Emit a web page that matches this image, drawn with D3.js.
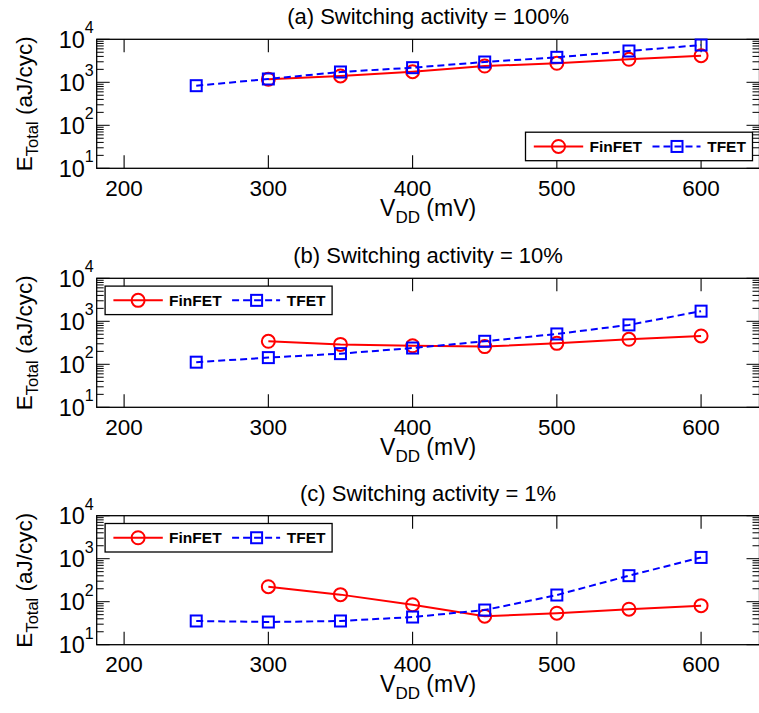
<!DOCTYPE html>
<html>
<head>
<meta charset="utf-8">
<script src="https://cdn.jsdelivr.net/npm/d3@7"></script>
<style>
  html, body { margin: 0; padding: 0; background: #fff; }
  svg { display: block; }
  text { font-family: "Liberation Sans", Arial, Helvetica, sans-serif; fill: #000; }
</style>
</head>
<body>
<svg id="chart" width="759" height="713"></svg>
<script>
// ---------------- data ----------------
const vddFinFET = [300, 350, 400, 450, 500, 550, 600];
const vddTFET = [250, 300, 350, 400, 450, 500, 550, 600];

const finfetA = [1175, 1403, 1766, 2393, 2766, 3427, 4157];
const tfetA   = [834, 1194, 1738, 2188, 2965, 3811, 5345, 7360];

const finfetB = [343, 290, 270, 258, 307, 382, 456];
const tfetB   = [112, 143, 177, 239, 343, 508, 824, 1722];

const finfetC = [223, 146, 85, 46, 54, 67, 81];
const tfetC   = [35.6, 33.7, 35.6, 44, 64, 143, 403, 1070];

const titles = ["(a) Switching activity = 100%", "(b) Switching activity = 10%", "(c) Switching activity = 1%"];
const xTickValues = [200, 300, 400, 500, 600];
const yTickExponents = [1, 2, 3, 4];
const seriesNames = ["FinFET", "TFET"];

// ---------------- layout ----------------
const svg = d3.select("#chart");
const boxLeft = 96.7, boxRight = 759.5;
const panelTops = [39.3, 278.3, 515.7];
const panelH = 129;
const legendPos = ["br", "tl", "tl"];
const RED = "#ff0000", BLUE = "#0000ff";

const x = d3.scaleLinear().domain([181, 640.5]).range([boxLeft, boxRight]);

const data = [
  {fin: finfetA, tfet: tfetA},
  {fin: finfetB, tfet: tfetB},
  {fin: finfetC, tfet: tfetC}
];

data.forEach((d, i) => {
  const top = panelTops[i], bottom = top + panelH;
  const y = d3.scaleLog().domain([10, 10000]).range([bottom, top]);
  const g = svg.append("g");
  const cx = (boxLeft + boxRight) / 2;

  // title
  g.append("text").attr("x", cx).attr("y", top - 15)
    .attr("text-anchor", "middle").attr("font-size", 22).text(titles[i]);

  // box
  g.append("rect").attr("x", boxLeft).attr("y", top)
    .attr("width", boxRight - boxLeft).attr("height", panelH)
    .attr("fill", "none").attr("stroke", "#000").attr("stroke-width", 1.3);

  // x ticks (inward, top and bottom)
  xTickValues.forEach(v => {
    const xx = x(v);
    g.append("line").attr("x1", xx).attr("x2", xx).attr("y1", bottom).attr("y2", bottom - 13)
      .attr("stroke", "#000").attr("stroke-width", 1.1);
    g.append("line").attr("x1", xx).attr("x2", xx).attr("y1", top).attr("y2", top + 13)
      .attr("stroke", "#000").attr("stroke-width", 1.1);
    g.append("text").attr("x", xx).attr("y", bottom + 27.5)
      .attr("text-anchor", "middle").attr("font-size", 22.5).text(v);
  });

  // y ticks (major and minor, inward both sides)
  const yTicks = [];
  for (let e = 1; e <= 3; e++) {
    for (let m = 1; m <= 9; m++) yTicks.push({v: m * Math.pow(10, e), major: m === 1});
  }
  yTicks.push({v: 10000, major: true});
  yTicks.forEach(t => {
    const yy = y(t.v);
    const len = t.major ? 13 : 7;
    g.append("line").attr("x1", boxLeft).attr("x2", boxLeft + len).attr("y1", yy).attr("y2", yy)
      .attr("stroke", "#000").attr("stroke-width", 1);
    g.append("line").attr("x1", boxRight).attr("x2", boxRight - len).attr("y1", yy).attr("y2", yy)
      .attr("stroke", "#000").attr("stroke-width", 1);
  });
  yTickExponents.forEach(e => {
    const yy = y(Math.pow(10, e));
    const t = g.append("text").attr("x", boxLeft - 3).attr("y", yy + 8.4)
      .attr("text-anchor", "end").attr("font-size", 23.5);
    t.append("tspan").text("10");
    t.append("tspan").attr("font-size", 16).attr("dy", -14.5).text(e);
  });

  // y label
  const yl = g.append("text")
    .attr("transform", `translate(31.7,${(top + bottom) / 2}) rotate(-90)`)
    .attr("text-anchor", "middle").attr("font-size", 22.5);
  yl.append("tspan").text("E");
  yl.append("tspan").attr("font-size", 16.5).attr("dy", 6).text("Total");
  yl.append("tspan").attr("dy", -6).text(" (aJ/cyc)");

  // x label
  const xl = g.append("text").attr("x", cx).attr("y", bottom + 47.5)
    .attr("text-anchor", "middle").attr("font-size", 23);
  xl.append("tspan").text("V");
  xl.append("tspan").attr("font-size", 17).attr("dy", 7).text("DD");
  xl.append("tspan").attr("dy", -7).text(" (mV)");

  // series
  const line = d3.line().x(p => x(p[0])).y(p => y(p[1]));
  const finPts = vddFinFET.map((v, k) => [v, d.fin[k]]);
  const tfetPts = vddTFET.map((v, k) => [v, d.tfet[k]]);

  g.append("path").attr("d", line(finPts)).attr("fill", "none")
    .attr("stroke", RED).attr("stroke-width", 2);
  g.selectAll(null).data(finPts).enter().append("circle")
    .attr("cx", p => x(p[0])).attr("cy", p => y(p[1])).attr("r", 6.5)
    .attr("fill", "none").attr("stroke", RED).attr("stroke-width", 2);

  g.append("path").attr("d", line(tfetPts)).attr("fill", "none")
    .attr("stroke", BLUE).attr("stroke-width", 2).attr("stroke-dasharray", "7,4");
  g.selectAll(null).data(tfetPts).enter().append("rect")
    .attr("x", p => x(p[0]) - 5.5).attr("y", p => y(p[1]) - 5.5)
    .attr("width", 11).attr("height", 11)
    .attr("fill", "none").attr("stroke", BLUE).attr("stroke-width", 2);

  // legend
  const lw = 227, lh = 28.5;
  let lx, ly;
  if (legendPos[i] === "br") { lx = boxRight - 7 - lw; ly = bottom - 7.6 - lh; }
  else { lx = boxLeft + 8.4; ly = top + 7.8; }
  const lg = g.append("g").attr("transform", `translate(${lx},${ly})`);
  lg.append("rect").attr("width", lw).attr("height", lh)
    .attr("fill", "#fff").attr("stroke", "#000").attr("stroke-width", 1.3);
  const my = lh / 2;
  lg.append("line").attr("x1", 8.3).attr("x2", 57.7).attr("y1", my).attr("y2", my)
    .attr("stroke", RED).attr("stroke-width", 2);
  lg.append("circle").attr("cx", 33).attr("cy", my).attr("r", 6.5)
    .attr("fill", "none").attr("stroke", RED).attr("stroke-width", 2);
  lg.append("text").attr("x", 64).attr("y", my + 5.5).attr("font-size", 15.5)
    .attr("font-weight", "bold").text(seriesNames[0]);
  lg.append("line").attr("x1", 127).attr("x2", 175).attr("y1", my).attr("y2", my)
    .attr("stroke", BLUE).attr("stroke-width", 2).attr("stroke-dasharray", "7,4");
  lg.append("rect").attr("x", 151.5 - 5.5).attr("y", my - 5.5).attr("width", 11).attr("height", 11)
    .attr("fill", "none").attr("stroke", BLUE).attr("stroke-width", 2);
  lg.append("text").attr("x", 181.7).attr("y", my + 5.5).attr("font-size", 15.5)
    .attr("font-weight", "bold").text(seriesNames[1]);
});
</script>
</body>
</html>
